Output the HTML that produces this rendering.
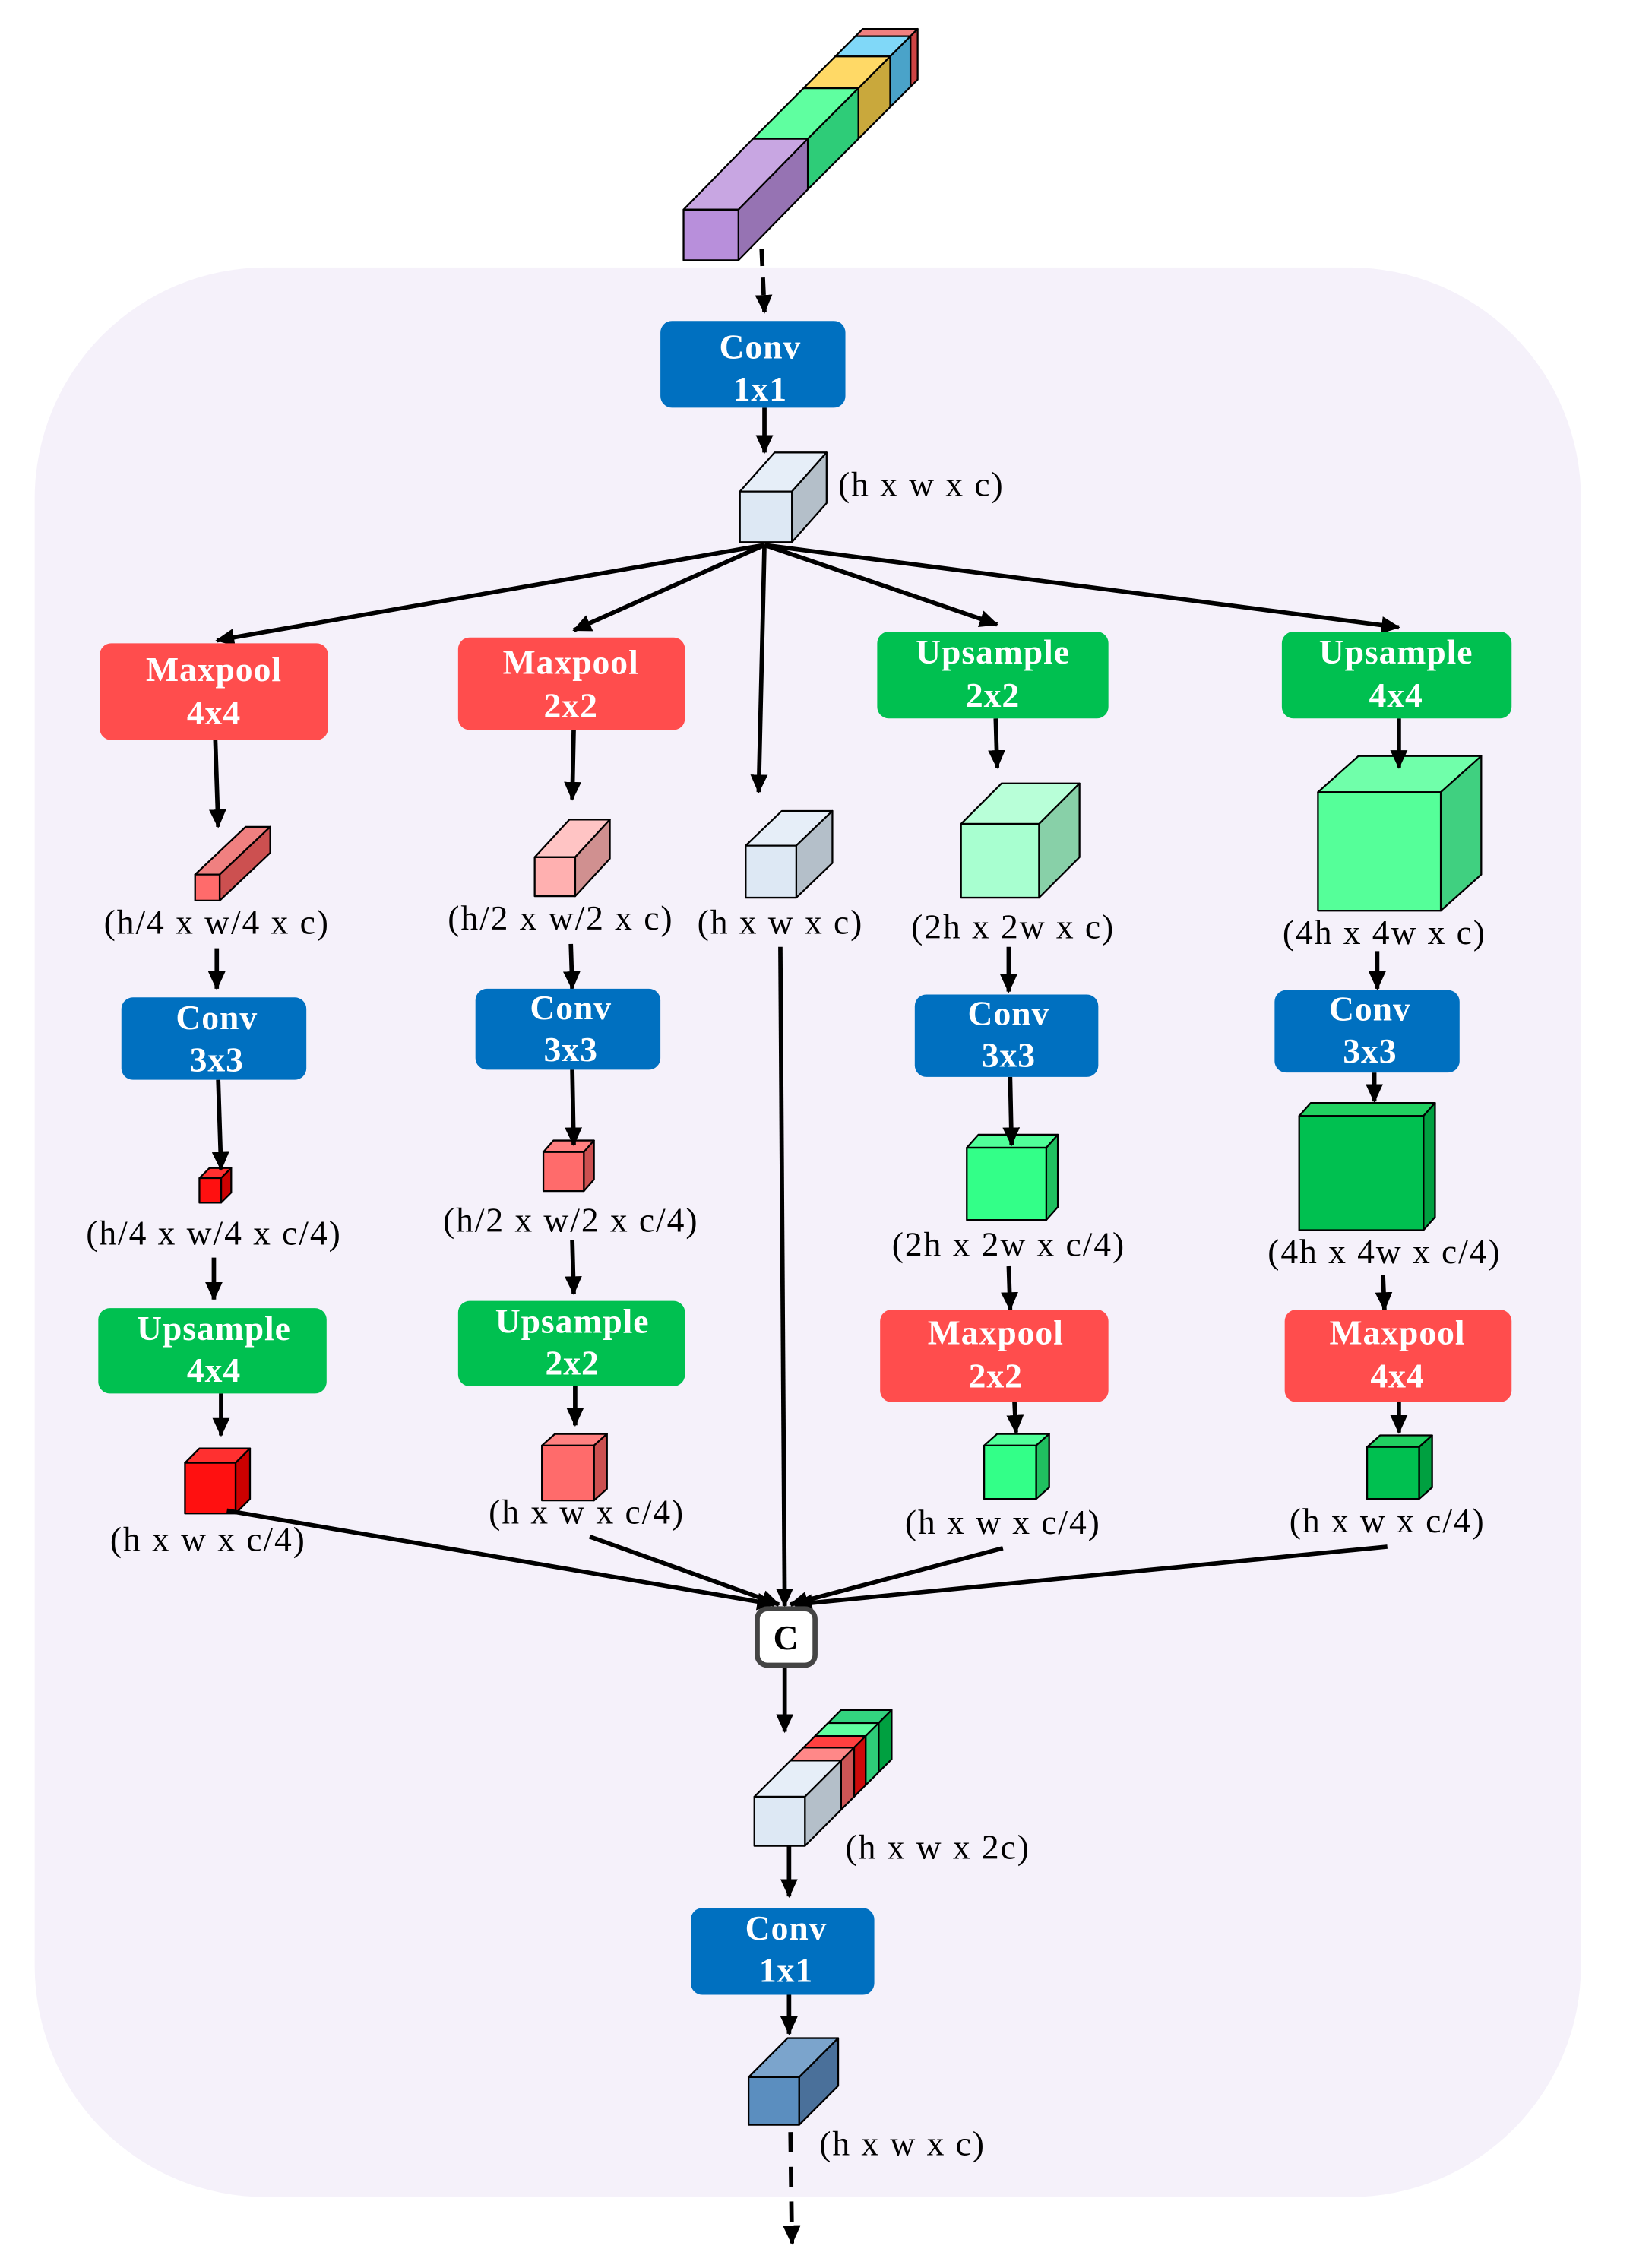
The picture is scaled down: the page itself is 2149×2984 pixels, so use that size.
<!DOCTYPE html>
<html><head><meta charset="utf-8"><style>html,body{margin:0;padding:0;background:#fff}svg{display:block}</style></head>
<body>
<svg xmlns="http://www.w3.org/2000/svg" width="2149" height="2984" viewBox="0 0 1130 1569">
<defs>
<marker id="ah" markerUnits="userSpaceOnUse" markerWidth="14" markerHeight="12" refX="12" refY="6" orient="auto"><path d="M0,0 L13,6 L0,12 z" fill="#000"/></marker>
</defs>
<rect x="24" y="185" width="1070" height="1335" rx="160" fill="#f5f1fa"/>
<g stroke="#000" stroke-width="1.2" stroke-linejoin="round">
<polygon points="592,25 630,25 635,20 597,20" fill="#f08080"/><polygon points="630,25 635,20 635,55 630,60" fill="#cc4444"/>
<polygon points="578,39 616,39 630,25 592,25" fill="#80d8f8"/><polygon points="616,39 630,25 630,60 616,74" fill="#4aa3c9"/>
<polygon points="556,61 594,61 616,39 578,39" fill="#ffd966"/><polygon points="594,61 616,39 616,74 594,96" fill="#c9a83c"/>
<polygon points="521,96 559,96 594,61 556,61" fill="#5fffa0"/><polygon points="559,96 594,61 594,96 559,131" fill="#2ecc78"/>
<polygon points="473,145 511,145 559,96 521,96" fill="#c8a6e2"/><polygon points="511,145 559,96 559,131 511,180" fill="#9673b3"/>
<rect x="473" y="145" width="38" height="35" fill="#b88fdb"/>
<polygon points="512,340 548,340 572,313 536,313" fill="#e6eef8"/><polygon points="548,340 572,313 572,348 548,375" fill="#b4bfc9"/><rect x="512" y="340" width="36" height="35" fill="#dde8f4"/>
<polygon points="135,605 152,605 187,572 170,572" fill="#f08080"/><polygon points="152,605 187,572 187,590 152,623" fill="#cc5050"/><rect x="135" y="605" width="17" height="18" fill="#ff6b6b"/>
<polygon points="138,815 153,815 160,808 145,808" fill="#ff3030"/><polygon points="153,815 160,808 160,825 153,832" fill="#c00"/><rect x="138" y="815" width="15" height="17" fill="#ff1010"/>
<polygon points="128,1012 163,1012 173,1002 138,1002" fill="#ff3030"/><polygon points="163,1012 173,1002 173,1037 163,1047" fill="#c00"/><rect x="128" y="1012" width="35" height="35" fill="#ff1010"/>
<polygon points="370,593 398,593 422,567 394,567" fill="#ffc4c4"/><polygon points="398,593 422,567 422,594 398,620" fill="#d09090"/><rect x="370" y="593" width="28" height="27" fill="#ffb0b0"/>
<polygon points="376,797 404,797 411,789 383,789" fill="#ff8080"/><polygon points="404,797 411,789 411,816 404,824" fill="#cc5050"/><rect x="376" y="797" width="28" height="27" fill="#ff6b6b"/>
<polygon points="375,1000 411,1000 420,992 384,992" fill="#ff8080"/><polygon points="411,1000 420,992 420,1030 411,1038" fill="#cc5050"/><rect x="375" y="1000" width="36" height="38" fill="#ff6b6b"/>
<polygon points="516,585 551,585 576,561 541,561" fill="#e6eef8"/><polygon points="551,585 576,561 576,597 551,621" fill="#b4bfc9"/><rect x="516" y="585" width="35" height="36" fill="#dde8f4"/>
<polygon points="665,570 719,570 747,542 693,542" fill="#b8ffd8"/><polygon points="719,570 747,542 747,593 719,621" fill="#88d0a8"/><rect x="665" y="570" width="54" height="51" fill="#a8ffd0"/>
<polygon points="669,794 724,794 732,785 677,785" fill="#50ff99"/><polygon points="724,794 732,785 732,835 724,844" fill="#20c060"/><rect x="669" y="794" width="55" height="50" fill="#33ff88"/>
<polygon points="681,1000 717,1000 726,992 690,992" fill="#50ff99"/><polygon points="717,1000 726,992 726,1029 717,1037" fill="#20c060"/><rect x="681" y="1000" width="36" height="37" fill="#33ff88"/>
<polygon points="912,548 997,548 1025,523 940,523" fill="#70ffaa"/><polygon points="997,548 1025,523 1025,605 997,630" fill="#40d080"/><rect x="912" y="548" width="85" height="82" fill="#55ff99"/>
<polygon points="899,772 985,772 993,763 907,763" fill="#20d060"/><polygon points="985,772 993,763 993,842 985,851" fill="#00a040"/><rect x="899" y="772" width="86" height="79" fill="#00c050"/>
<polygon points="946,1001 982,1001 991,993 955,993" fill="#20d060"/><polygon points="982,1001 991,993 991,1029 982,1037" fill="#00a040"/><rect x="946" y="1001" width="36" height="36" fill="#00c050"/>
<polygon points="573,1192 608,1192 617,1183 582,1183" fill="#33d47f"/><polygon points="608,1192 617,1183 617,1217 608,1226" fill="#00a040"/>
<polygon points="564,1201 599,1201 608,1192 573,1192" fill="#5fffa0"/><polygon points="599,1201 608,1192 608,1226 599,1235" fill="#2ecc78"/>
<polygon points="556,1209 591,1209 599,1201 564,1201" fill="#ff4040"/><polygon points="591,1209 599,1201 599,1235 591,1243" fill="#cc0a0a"/>
<polygon points="547,1218 582,1218 591,1209 556,1209" fill="#ff8888"/><polygon points="582,1218 591,1209 591,1243 582,1252" fill="#cc5555"/>
<polygon points="522,1243 557,1243 582,1218 547,1218" fill="#e6eef8"/><polygon points="557,1243 582,1218 582,1252 557,1277" fill="#b4bfc9"/><rect x="522" y="1243" width="35" height="34" fill="#dde8f4"/>
<polygon points="518,1437 553,1437 580,1410 545,1410" fill="#7ba4cc"/><polygon points="553,1437 580,1410 580,1443 553,1470" fill="#4a709a"/><rect x="518" y="1437" width="35" height="33" fill="#5b8ebf"/>
</g>
<g stroke="#000" stroke-width="3" fill="none" marker-end="url(#ah)">
<line x1="527" y1="172" x2="529" y2="216" stroke-dasharray="12,8"/>
<line x1="529" y1="282" x2="529" y2="313"/>
<line x1="529" y1="377" x2="150" y2="443"/>
<line x1="529" y1="377" x2="397" y2="436"/>
<line x1="529" y1="377" x2="525" y2="548"/>
<line x1="529" y1="377" x2="690" y2="432"/>
<line x1="529" y1="377" x2="968" y2="434"/>
<line x1="149" y1="512" x2="151" y2="572"/>
<line x1="150" y1="656" x2="150" y2="684"/>
<line x1="151" y1="747" x2="153" y2="809"/>
<line x1="148" y1="870" x2="148" y2="899"/>
<line x1="153" y1="964" x2="153" y2="993"/>
<line x1="397" y1="505" x2="396" y2="553"/>
<line x1="395" y1="653" x2="396" y2="684"/>
<line x1="396" y1="740" x2="397" y2="792"/>
<line x1="396" y1="858" x2="397" y2="895"/>
<line x1="398" y1="959" x2="398" y2="986"/>
<line x1="689" y1="497" x2="690" y2="531"/>
<line x1="698" y1="655" x2="698" y2="686"/>
<line x1="699" y1="745" x2="700" y2="792"/>
<line x1="698" y1="876" x2="699" y2="906"/>
<line x1="702" y1="970" x2="703" y2="991"/>
<line x1="968" y1="497" x2="968" y2="531"/>
<line x1="953" y1="658" x2="953" y2="684"/>
<line x1="951" y1="742" x2="951" y2="762"/>
<line x1="957" y1="882" x2="958" y2="906"/>
<line x1="968" y1="970" x2="968" y2="991"/>
<line x1="540" y1="655" x2="543" y2="1111"/>
<line x1="157" y1="1045" x2="536" y2="1110"/>
<line x1="408" y1="1063" x2="539" y2="1110"/>
<line x1="694" y1="1071" x2="547" y2="1110"/>
<line x1="960" y1="1070" x2="550" y2="1110"/>
<line x1="543" y1="1152" x2="543" y2="1198"/>
<line x1="546" y1="1277" x2="546" y2="1312"/>
<line x1="546" y1="1380" x2="546" y2="1407"/>
<line x1="547" y1="1475" x2="548" y2="1552" stroke-dasharray="14,10"/>
</g>
<g>
<rect x="457" y="222" width="128" height="60" rx="8" fill="#0070c0"/>
<rect x="69" y="445" width="158" height="67" rx="8" fill="#ff4d4d"/>
<rect x="317" y="441" width="157" height="64" rx="8" fill="#ff4d4d"/>
<rect x="607" y="437" width="160" height="60" rx="8" fill="#00c050"/>
<rect x="887" y="437" width="159" height="60" rx="8" fill="#00c050"/>
<rect x="84" y="690" width="128" height="57" rx="8" fill="#0070c0"/>
<rect x="329" y="684" width="128" height="56" rx="8" fill="#0070c0"/>
<rect x="633" y="688" width="127" height="57" rx="8" fill="#0070c0"/>
<rect x="882" y="685" width="128" height="57" rx="8" fill="#0070c0"/>
<rect x="68" y="905" width="158" height="59" rx="8" fill="#00c050"/>
<rect x="317" y="900" width="157" height="59" rx="8" fill="#00c050"/>
<rect x="609" y="906" width="158" height="64" rx="8" fill="#ff4d4d"/>
<rect x="889" y="906" width="157" height="64" rx="8" fill="#ff4d4d"/>
<rect x="478" y="1320" width="127" height="60" rx="8" fill="#0070c0"/>
<rect x="524" y="1113" width="40" height="39" rx="7" fill="#fff" stroke="#444" stroke-width="3.5"/>
</g>
<g font-family="Liberation Serif, serif" font-weight="bold" font-size="24" letter-spacing="0.5" fill="#fff" text-anchor="middle">
<text x="526" y="248">Conv</text><text x="526" y="277">1x1</text>
<text x="148" y="471">Maxpool</text><text x="148" y="501">4x4</text>
<text x="395" y="466">Maxpool</text><text x="395" y="496">2x2</text>
<text x="687" y="459">Upsample</text><text x="687" y="489">2x2</text>
<text x="966" y="459">Upsample</text><text x="966" y="489">4x4</text>
<text x="150" y="712">Conv</text><text x="150" y="741">3x3</text>
<text x="395" y="705">Conv</text><text x="395" y="734">3x3</text>
<text x="698" y="709">Conv</text><text x="698" y="738">3x3</text>
<text x="948" y="706">Conv</text><text x="948" y="735">3x3</text>
<text x="148" y="927">Upsample</text><text x="148" y="956">4x4</text>
<text x="396" y="922">Upsample</text><text x="396" y="951">2x2</text>
<text x="689" y="930">Maxpool</text><text x="689" y="960">2x2</text>
<text x="967" y="930">Maxpool</text><text x="967" y="960">4x4</text>
<text x="544" y="1342">Conv</text><text x="544" y="1371">1x1</text>
<text x="544" y="1141" fill="#000" font-size="24">C</text>
</g>
<g font-family="Liberation Serif, serif" font-size="24" letter-spacing="1" fill="#000" text-anchor="middle">
<text x="580" y="343" text-anchor="start">(h x w x c)</text>
<text x="150" y="646">(h/4 x w/4 x c)</text>
<text x="388" y="643">(h/2 x w/2 x c)</text>
<text x="540" y="646">(h x w x c)</text>
<text x="701" y="649">(2h x 2w x c)</text>
<text x="958" y="653">(4h x 4w x c)</text>
<text x="148" y="861">(h/4 x w/4 x c/4)</text>
<text x="395" y="852">(h/2 x w/2 x c/4)</text>
<text x="698" y="869">(2h x 2w x c/4)</text>
<text x="958" y="874">(4h x 4w x c/4)</text>
<text x="144" y="1073">(h x w x c/4)</text>
<text x="406" y="1054">(h x w x c/4)</text>
<text x="694" y="1061">(h x w x c/4)</text>
<text x="960" y="1060">(h x w x c/4)</text>
<text x="585" y="1286" text-anchor="start">(h x w x 2c)</text>
<text x="567" y="1491" text-anchor="start">(h x w x c)</text>
</g>
</svg>
</body></html>
